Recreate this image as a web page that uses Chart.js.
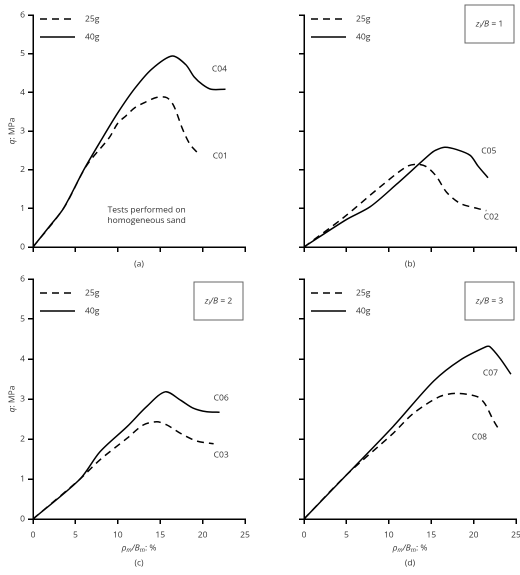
<!DOCTYPE html>
<html>
<head>
<meta charset="utf-8">
<script src="https://cdn.jsdelivr.net/npm/chart.js@4"></script>
<style>
  body { margin: 0; background: #fff; }
  #page { position: relative; width: 520px; height: 575px; }
  canvas { position: absolute; }
</style>
</head>
<body>
<div id="page">
  <canvas id="pa"></canvas>
  <canvas id="pb"></canvas>
  <canvas id="pc"></canvas>
  <canvas id="pd"></canvas>
</div>
<script>
// tick values
const xTicks = [0, 5, 10, 15, 20, 25];
const yTicks = [0, 1, 2, 3, 4, 5, 6];

// (a) homogeneous sand
const c01X = [0, 3.6, 6.3, 9, 10, 11, 12, 13.2, 14.6, 15.8, 16.6, 17.6, 18.5, 19.7];
const c01Y = [0, 1.0, 2.1, 2.83, 3.2, 3.4, 3.6, 3.74, 3.87, 3.86, 3.65, 3.07, 2.66, 2.37];
const c04X = [0, 2, 3.6, 6, 8, 10, 12, 14, 16.4, 18, 19, 20, 21, 22.7];
const c04Y = [0, 0.55, 1.0, 2.0, 2.75, 3.47, 4.1, 4.6, 4.94, 4.72, 4.4, 4.2, 4.08, 4.08];
// (b) zi/B = 1
const c02X = [0, 4.6, 8.9, 12.1, 13.3, 14.4, 15.6, 16.8, 18.4, 20.4, 21.5];
const c02Y = [0, 0.75, 1.54, 2.08, 2.14, 2.08, 1.83, 1.42, 1.13, 1.0, 0.94];
const c05X = [0, 5, 7.8, 10.9, 14.8, 15.5, 16.6, 18, 19.6, 20.5, 21.7];
const c05Y = [0, 0.71, 1.04, 1.62, 2.39, 2.5, 2.58, 2.52, 2.37, 2.1, 1.79];
// (c) zi/B = 2
const c03X = [0, 5.55, 7.9, 11.1, 13, 14.6, 15.8, 17.4, 19.3, 21.3];
const c03Y = [0, 1.0, 1.48, 2.02, 2.35, 2.43, 2.35, 2.14, 1.95, 1.88];
const c06X = [0, 5.55, 7.9, 11.1, 13.4, 15.6, 17.4, 18.9, 20.5, 22];
const c06Y = [0, 1.0, 1.68, 2.31, 2.81, 3.18, 2.97, 2.77, 2.68, 2.67];
// (d) zi/B = 3
const c08X = [0, 5, 10.5, 12.9, 16, 18, 20.4, 21.3, 22.3, 23];
const c08Y = [0, 1.1, 2.14, 2.64, 3.06, 3.14, 3.06, 2.89, 2.48, 2.23];
const c07X = [0, 5, 10.5, 15.3, 18.4, 21.5, 21.9, 23.1, 24.4];
const c07Y = [0, 1.1, 2.31, 3.45, 3.97, 4.31, 4.31, 4.02, 3.62];

const FONT = "'Open Sans', sans-serif";
const INK = '#333';

function pts(xs, ys) { return xs.map((x, i) => ({ x: x, y: ys[i] })); }

function drawRich(ctx, parts, x, y, align) {
    // parts: [text, italic, sub]
    let w = 0;
    parts.forEach(p => {
        ctx.font = (p[1] ? 'italic ' : '') + (p[2] ? '6px ' : '8.5px ') + FONT;
        w += ctx.measureText(p[0]).width;
    });
    let cx = align === 'center' ? x - w / 2 : x;
    parts.forEach(p => {
        ctx.font = (p[1] ? 'italic ' : '') + (p[2] ? '6px ' : '8.5px ') + FONT;
        ctx.fillText(p[0], cx, y + (p[2] ? 2.5 : 0));
        cx += ctx.measureText(p[0]).width;
    });
}

function makePanel(id, left, top, w, h, opt) {
    const cv = document.getElementById(id);
    cv.style.left = left + 'px';
    cv.style.top = top + 'px';
    cv.style.width = w + 'px';
    cv.style.height = h + 'px';

    const decor = {
        id: 'decor',
        afterDraw(chart) {
            const ctx = chart.ctx, a = chart.chartArea;
            const sx = chart.scales.x, sy = chart.scales.y;
            ctx.save();
            ctx.fillStyle = INK;
            ctx.textBaseline = 'middle';
            // legend
            ctx.strokeStyle = '#000';
            ctx.lineWidth = 1.5;
            [[opt.legY, [7, 5], '25g'], [opt.legY + 18, [], '40g']].forEach(l => {
                ctx.setLineDash(l[1]);
                ctx.beginPath();
                ctx.moveTo(a.left + 7, l[0]);
                ctx.lineTo(a.left + 42, l[0]);
                ctx.stroke();
                ctx.setLineDash([]);
                ctx.font = '8.5px ' + FONT;
                ctx.textAlign = 'left';
                ctx.fillText(l[2], a.left + 52, l[0]);
            });
            // curve labels
            opt.labels.forEach(l => {
                ctx.font = '8.5px ' + FONT;
                ctx.textAlign = 'left';
                ctx.fillText(l[0], sx.getPixelForValue(l[1]), sy.getPixelForValue(l[2]));
            });
            if (opt.note) {
                ctx.textAlign = 'center';
                ctx.font = '8.5px ' + FONT;
                ctx.fillText(opt.note[0], sx.getPixelForValue(13.4), sy.getPixelForValue(0.95));
                ctx.fillText(opt.note[1], sx.getPixelForValue(13.4), sy.getPixelForValue(0.68));
            }
            if (opt.box) {
                const bx = a.right - 51, by = opt.boxTop, bw = 49, bh = 38;
                ctx.strokeStyle = '#666';
                ctx.lineWidth = 1;
                ctx.strokeRect(bx, by, bw, bh);
                ctx.textAlign = 'left';
                drawRich(ctx, [['z', true, false], ['i', true, true], ['/B', true, false], [' = ' + opt.box, false, false]],
                    bx + bw / 2, by + bh / 2, 'center');
            }
            // y title
            if (opt.yTitle) {
                ctx.save();
                ctx.translate(12, (a.top + a.bottom) / 2);
                ctx.rotate(-Math.PI / 2);
                ctx.textAlign = 'left';
                drawRich(ctx, [['q', true, false], [': MPa', false, false]], 0, 0, 'center');
                ctx.restore();
            }
            // captions
            const mid = (a.left + a.right) / 2;
            if (opt.xTitle) {
                ctx.textAlign = 'left';
                drawRich(ctx, [['ρ', true, false], ['m', true, true], ['/B', true, false], ['m', true, true], [': %', false, false]],
                    mid, a.bottom + 29, 'center');
            }
            ctx.font = '8.5px ' + FONT;
            ctx.textAlign = 'center';
            ctx.fillText(opt.caption, mid, a.bottom + opt.capOff);
            ctx.restore();
        }
    };

    const axisGrid = { display: true, drawOnChartArea: false, drawTicks: true, tickLength: 5, color: '#000', lineWidth: 1.5 };

    return new Chart(cv, {
        type: 'scatter',
        data: {
            datasets: [
                { data: pts(opt.d25[0], opt.d25[1]), borderDash: [7, 5] },
                { data: pts(opt.d40[0], opt.d40[1]) }
            ].map(d => Object.assign(d, {
                showLine: true, borderColor: '#000', borderWidth: 1.5,
                pointRadius: 0, tension: 0.3
            }))
        },
        options: {
            responsive: false,
            animation: false,
            devicePixelRatio: 2,
            layout: { padding: opt.pad },
            plugins: { legend: { display: false }, tooltip: { enabled: false } },
            scales: {
                x: {
                    type: 'linear', min: 0, max: 25,
                    afterBuildTicks: s => { s.ticks = xTicks.map(v => ({ value: v })); },
                    afterFit: s => { s.height = opt.xh; s.paddingLeft = 0; s.paddingRight = 0; },
                    grid: axisGrid,
                    border: { color: '#000', width: 1.5 },
                    ticks: {
                        color: INK, font: { family: FONT, size: 8.5 }, padding: 6, maxRotation: 0,
                        callback: v => opt.xLabels ? v : ''
                    }
                },
                y: {
                    type: 'linear', min: 0, max: 6,
                    afterBuildTicks: s => { s.ticks = yTicks.map(v => ({ value: v })); },
                    afterFit: s => { s.width = opt.yw; s.paddingTop = 0; s.paddingBottom = 0; },
                    grid: axisGrid,
                    border: { color: '#000', width: 1.5 },
                    ticks: {
                        color: INK, font: { family: FONT, size: 8.5 }, padding: 3,
                        callback: v => opt.yLabels ? v : ''
                    }
                }
            }
        },
        plugins: [decor]
    });
}

makePanel('pa', 0, 0, 260, 272, {
    d25: [c01X, c01Y], d40: [c04X, c04Y],
    pad: { top: 15, right: 15, left: 0, bottom: 0 }, xh: 25, yw: 33,
    xLabels: false, yLabels: true, yTitle: true, xTitle: false,
    legY: 19, caption: '(a)', capOff: 17,
    labels: [['C04', 21.1, 4.6], ['C01', 21.2, 2.35]],
    note: ['Tests performed on', 'homogeneous sand']
});
makePanel('pb', 260, 0, 260, 272, {
    d25: [c02X, c02Y], d40: [c05X, c05Y],
    pad: { top: 15, right: 4, left: 0, bottom: 0 }, xh: 25, yw: 44,
    xLabels: false, yLabels: false, yTitle: false, xTitle: false,
    legY: 19, caption: '(b)', capOff: 17,
    labels: [['C05', 20.9, 2.48], ['C02', 21.2, 0.78]],
    box: '1', boxTop: 5
});
makePanel('pc', 0, 272, 260, 303, {
    d25: [c03X, c03Y], d40: [c06X, c06Y],
    pad: { top: 7, right: 15, left: 0, bottom: 0 }, xh: 56, yw: 33,
    xLabels: true, yLabels: true, yTitle: true, xTitle: true,
    legY: 21, caption: '(c)', capOff: 44,
    labels: [['C06', 21.3, 3.02], ['C03', 21.3, 1.6]],
    box: '2', boxTop: 10
});
makePanel('pd', 260, 272, 260, 303, {
    d25: [c08X, c08Y], d40: [c07X, c07Y],
    pad: { top: 7, right: 4, left: 0, bottom: 0 }, xh: 56, yw: 44,
    xLabels: true, yLabels: false, yTitle: false, xTitle: true,
    legY: 21, caption: '(d)', capOff: 44,
    labels: [['C07', 21.1, 3.65], ['C08', 19.8, 2.05]],
    box: '3', boxTop: 10
});
</script>
</body>
</html>
